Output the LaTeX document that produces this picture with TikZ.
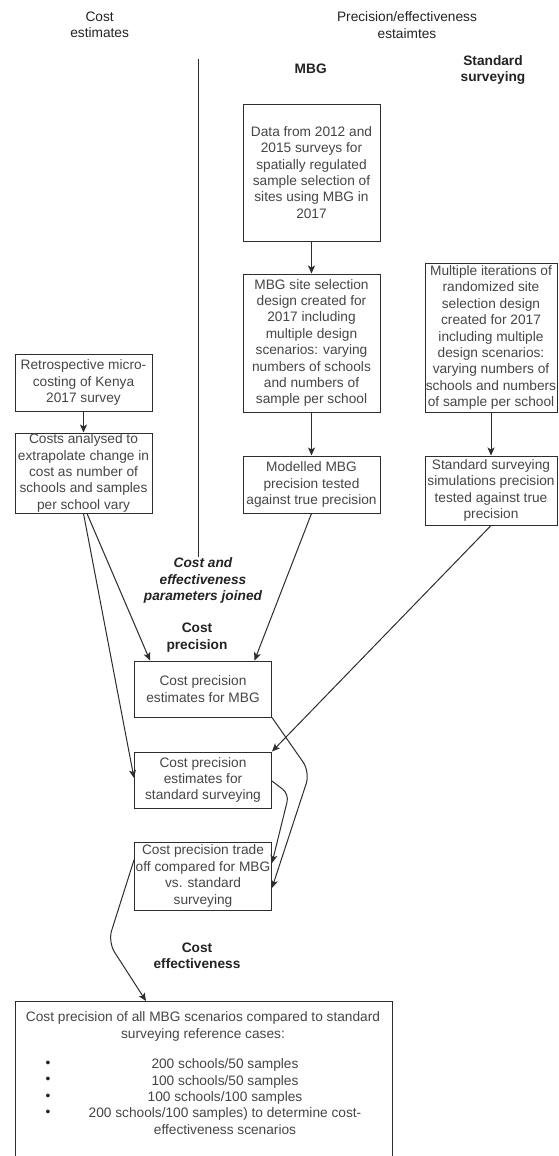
\documentclass[tikz,border=0pt]{standalone}
\usepackage{fontspec}
\setmainfont{Liberation Sans}
\usetikzlibrary{arrows.meta}
\definecolor{linec}{RGB}{45,45,45}
\definecolor{textc}{RGB}{70,70,70}
\definecolor{titlec}{RGB}{35,35,35}
\begin{document}
\begin{tikzpicture}[x=1pt,y=-1pt,
  every node/.style={font=\fontsize{13.7}{16.4}\selectfont, text=textc, align=center, inner sep=0pt},
  box/.style={draw=linec, line width=1pt},
  ttl/.style={text=titlec, font=\fontsize{13.7}{16.4}\selectfont},
  bttl/.style={text=titlec, font=\fontsize{13.7}{16.4}\selectfont\bfseries},
  ittl/.style={text=titlec, font=\fontsize{13.7}{16.4}\selectfont\bfseries\itshape},
  conn/.style={draw=linec, line width=1pt, -{Stealth[length=8pt,width=7pt,inset=2pt]}},
  plain/.style={draw=linec, line width=1pt}]
\path[use as bounding box] (0,0) rectangle (558,1156);
\fill[white] (0,0) rectangle (558,1156);

% titles
\node[ttl] (tcost) at (99.6,25) {Cost\\estimates};
\node[ttl] (tprec) at (407,25) {Precision/effectiveness\\estaimtes};
\node[bttl] (tmbg) at (310.7,69) {MBG};
\node[bttl] (tstd) at (493,70) {Standard\\surveying};

% vertical divider
\coordinate (vt) at (198,59);
\coordinate (vb) at (198,557);
\draw[plain] (vt) -- (vb);

% boxes
\node[box, minimum width=137pt, minimum height=137pt] (d1) at (311.5,172.5)
  {Data from 2012 and\\2015 surveys for\\spatially regulated\\sample selection of\\sites using MBG in\\2017};
\node[box, minimum width=137pt, minimum height=138pt] (d2) at (311.5,343)
  {MBG site selection\\design created for\\2017 including\\multiple design\\scenarios: varying\\numbers of schools\\and numbers of\\sample per school};
\node[box, minimum width=132pt, minimum height=149pt] (s1) at (491,337.5)
  {Multiple iterations of\\randomized site\\selection design\\created for 2017\\including multiple\\design scenarios:\\varying numbers of\\schools and numbers\\of sample per school};
\node[box, minimum width=137pt, minimum height=57pt] (r1) at (83.5,382.5)
  {Retrospective micro-\\costing of Kenya\\2017 survey};
\node[box, minimum width=137pt, minimum height=80pt] (r2) at (83.5,473)
  {Costs analysed to\\extrapolate change in\\cost as number of\\schools and samples\\per school vary};
\node[box, minimum width=137pt, minimum height=57pt] (m3) at (311.5,484.5)
  {Modelled MBG\\precision tested\\against true precision};
\node[box, minimum width=132pt, minimum height=69pt] (s2) at (491,490.5)
  {Standard surveying\\simulations precision\\tested against true\\precision};

\node[ittl] (tjoin) at (203,580.5) {Cost and\\effectiveness\\parameters joined};
\node[bttl] (tcp) at (197,637.5) {Cost\\precision};

\node[box, minimum width=137pt, minimum height=56pt] (c1) at (203,689)
  {Cost precision\\estimates for MBG};
\node[box, minimum width=137pt, minimum height=56pt] (c2) at (203,780)
  {Cost precision\\estimates for\\standard surveying};
\node[box, minimum width=137pt, minimum height=68pt] (t1) at (203,876)
  {Cost precision trade\\off compared for MBG\\vs. standard\\surveying};

\node[bttl] (tce) at (197,956) {Cost\\effectiveness};

\node[box, anchor=north west, minimum width=376.5pt, minimum height=175pt] (b1) at (15,1001) {};
\node (b1a) at (203,1026.5) {Cost precision of all MBG scenarios compared to standard\\surveying reference cases:};
\node[text=titlec] (bu1) at (48,1064) {\textbullet};
\node[text=titlec] (bu2) at (48,1080.5) {\textbullet};
\node[text=titlec] (bu3) at (48,1097) {\textbullet};
\node[text=titlec] (bu4) at (48,1113) {\textbullet};
\node (b1b) at (225,1096.5) {200 schools/50 samples\\100 schools/50 samples\\100 schools/100 samples\\200 schools/100 samples) to determine cost-\\effectiveness scenarios};

% connectors
\draw[conn] (d1.south) -- (d2.north);
\draw[conn] (d2.south) -- (m3.north);
\draw[conn] (s1.south) -- (s2.north);
\draw[conn] (r1.south) -- (r2.north);
\draw[conn] ([xshift=3.5pt]r2.south) -- ([xshift=16pt]c1.north west);
\draw[conn] (r2.south) -- ([yshift=2pt]c2.west);
\draw[conn] (m3.south) -- ([xshift=-17.5pt]c1.north east);
\draw[conn] (s2.south) -- (c2.north east);
\coordinate (w1) at (310,772);
\draw[conn, rounded corners=12pt] (c1.south east) -- (w1) -- ([yshift=-12pt]t1.east);
\coordinate (w2) at (289,794);
\draw[conn, rounded corners=8pt] ([yshift=-1pt]c2.east) -- (w2) -- ([yshift=13pt]t1.east);
\coordinate (w3) at (108,942);
\draw[conn, rounded corners=12pt] ([yshift=16pt]t1.west) -- (w3) -- ([xshift=131pt]b1.north west);
\end{tikzpicture}
\end{document}
